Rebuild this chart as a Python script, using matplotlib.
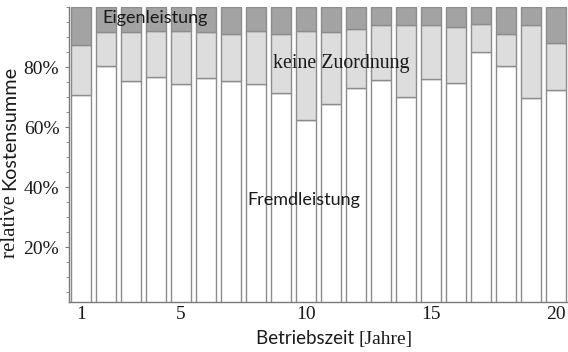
import matplotlib
matplotlib.use("Agg")
import matplotlib.pyplot as plt
import numpy as np
from matplotlib.ticker import MultipleLocator, FixedLocator

# Anteile in %
jahre = list(range(1, 21))
fremdleistung = [70.7, 80.3, 75.3, 76.7, 74.3, 76.3, 75.3, 74.3, 71.3, 62.3,
                 67.7, 73.0, 75.7, 70.0, 76.0, 74.7, 85.0, 80.3, 69.7, 72.3]
bis_zuordnung = [87.3, 91.7, 91.7, 92.0, 92.0, 91.7, 91.0, 92.0, 91.0, 92.0,
                 91.7, 92.7, 94.0, 94.0, 94.0, 93.3, 94.3, 91.0, 94.0, 88.0]
keine_zuordnung = [b - f for b, f in zip(bis_zuordnung, fremdleistung)]
eigenleistung = [100 - b for b in bis_zuordnung]

x_ticks = [1, 5, 10, 15, 20]
y_ticks = [20, 40, 60, 80]

SERIF = "Liberation Serif"
SANS = "Lato"
TXT = "#1a1a1a"
EDGE = "#8c8c8c"

fig = plt.figure(figsize=(5.68, 3.52), dpi=100)
ax = fig.add_axes([69 / 568, 1 - 302 / 352, 1 - 69 / 568, 295 / 352])

ax.bar(jahre, fremdleistung, width=0.8, color="white", edgecolor=EDGE, linewidth=1)
ax.bar(jahre, keine_zuordnung, width=0.8, bottom=fremdleistung,
       color="#dcdddc", edgecolor=EDGE, linewidth=1)
ax.bar(jahre, eigenleistung, width=0.8, bottom=bis_zuordnung,
       color="#a3a3a3", edgecolor=EDGE, linewidth=1)

ax.set_xlim(0.52, 20.48)
ax.set_ylim(1.67, 100)

for s in ["top", "right"]:
    ax.spines[s].set_visible(False)
for s in ["left", "bottom"]:
    ax.spines[s].set_color("#7a7a7a")
    ax.spines[s].set_linewidth(1)

ax.xaxis.set_major_locator(FixedLocator(x_ticks))
ax.set_xticklabels([str(t) for t in x_ticks], fontfamily=SERIF, fontsize=14, color=TXT)
ax.tick_params(axis="x", length=0, pad=3)

ax.yaxis.set_major_locator(FixedLocator(y_ticks))
ax.yaxis.set_minor_locator(MultipleLocator(5))
ax.set_yticklabels(["%d%%" % t for t in y_ticks], fontfamily=SERIF, fontsize=14, color=TXT)
ax.tick_params(axis="y", which="major", length=3, color="#7a7a7a", pad=4)
ax.tick_params(axis="y", which="minor", length=2, color="#7a7a7a")

# Beschriftungen im Diagramm
ax.text(3.96, 96.2, "Eigenleistung", fontfamily=SANS, fontsize=13, color=TXT,
        ha="center", va="center")
ax.text(11.4, 81.3, "keine Zuordnung", fontfamily=SERIF, fontsize=14.3, color=TXT,
        ha="center", va="center")
ax.text(9.9, 35.7, "Fremdleistung", fontfamily=SANS, fontsize=13, color=TXT,
        ha="center", va="center")

# Achsentitel aus Serif- und Sans-Teil zusammensetzen
fig.canvas.draw()
r = fig.canvas.get_renderer()
inv = fig.transFigure.inverted()

t1 = fig.text(15 / 568, 1 - 258 / 352, "relative ", fontfamily=SERIF, fontsize=15,
              color=TXT, rotation=90, rotation_mode="anchor", ha="left", va="baseline")
bb = t1.get_window_extent(r)
fig.text(15 / 568, inv.transform((0, bb.y1))[1], "Kostensumme", fontfamily=SANS,
         fontsize=14.3, color=TXT, rotation=90, rotation_mode="anchor",
         ha="left", va="baseline")

t2 = fig.text(256 / 568, 1 - 344 / 352, "Betriebszeit ", fontfamily=SANS, fontsize=13.5,
              color=TXT, ha="left", va="baseline")
bb = t2.get_window_extent(r)
fig.text(inv.transform((bb.x1, 0))[0], 1 - 344 / 352, "[Jahre]", fontfamily=SERIF,
         fontsize=14, color=TXT, ha="left", va="baseline")

fig.savefig("out.png", dpi=100)
